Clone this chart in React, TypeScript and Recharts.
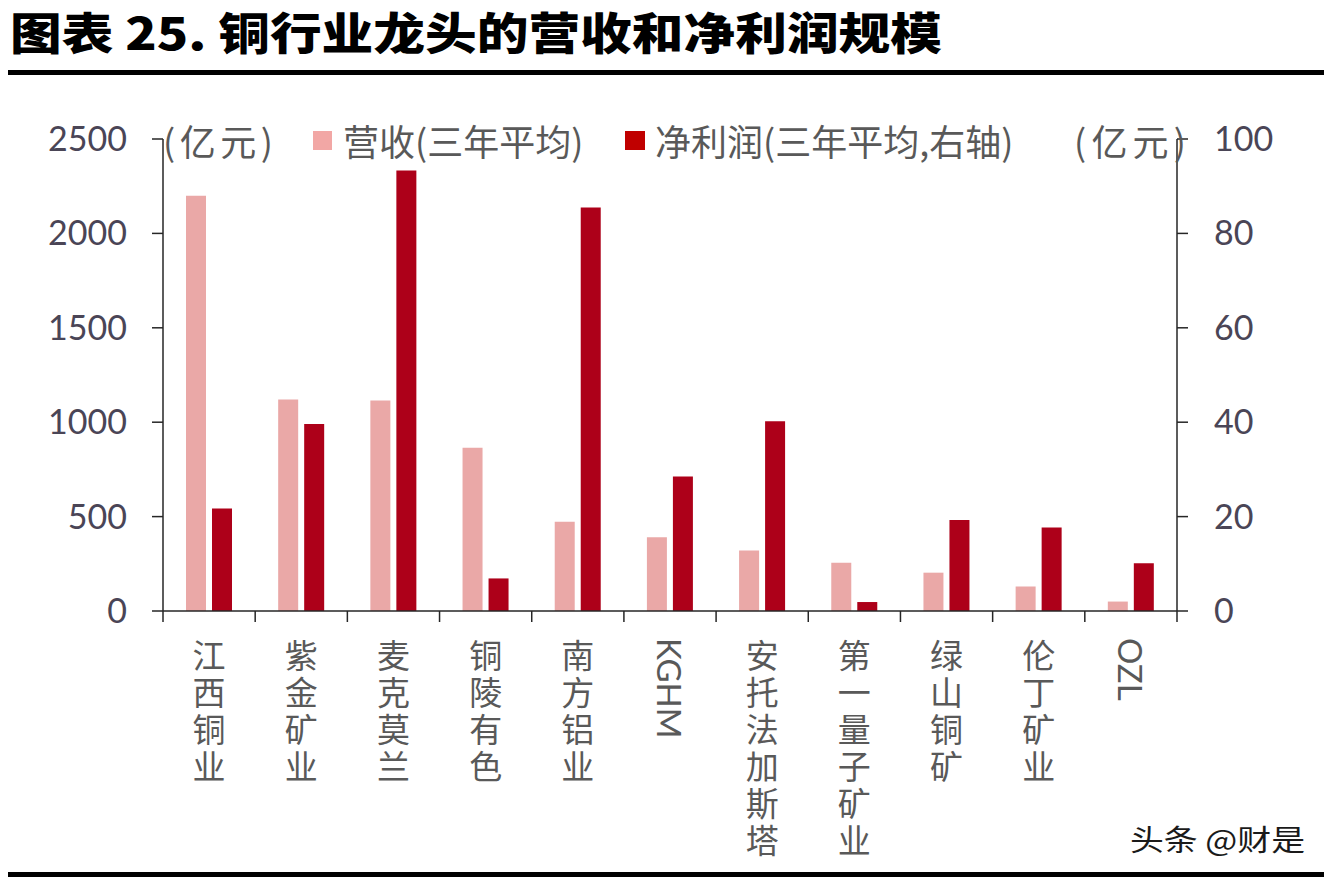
import React from "react"
import { BarChart, Bar, XAxis, YAxis } from "recharts"

// 铜行业龙头：营收（左轴，亿元）与净利润（右轴，亿元），三年平均
const companies = ["江西铜业", "紫金矿业", "麦克莫兰", "铜陵有色", "南方铝业", "KGHM", "安托法加斯塔", "第一量子矿业", "绿山铜矿", "伦丁矿业", "OZL"]
const revenue = [2200, 1120, 1115, 865, 473, 390, 321, 255, 203, 130, 50]
const netProfit = [21.7, 39.6, 93.3, 6.9, 85.5, 28.5, 40.2, 1.9, 19.3, 17.7, 10.1]
const leftTicks = [0, 500, 1000, 1500, 2000, 2500]
const rightTicks = [0, 20, 40, 60, 80, 100]

const data = companies.map((name, i) => ({ name, revenue: revenue[i], netProfit: netProfit[i] }))

const W = 1332
const H = 880
const PLOT_LEFT = 163
const PLOT_RIGHT = 1177
const PLOT_TOP = 139
const PLOT_BOTTOM = 611
const BAND = (PLOT_RIGHT - PLOT_LEFT) / companies.length

const PINK = "#EAA8A7"
const RED = "#AD0019"
const AXIS = "#262626"
const NUM = "#4a4556"
const LABEL = "#595959"
const CJK = "'Noto Sans CJK SC', sans-serif"
const LATIN = "Lato, 'Noto Sans CJK SC', sans-serif"

function CategoryTick({ x, payload, index }: any) {
  const label: string = payload.value
  const latin = /^[A-Z]+$/.test(label)
  const left = x - BAND / 2
  return (
    <g>
      <line x1={left} x2={left} y1={PLOT_BOTTOM} y2={PLOT_BOTTOM + 11} stroke={AXIS} strokeWidth={1.5} />
      {index === companies.length - 1 && (
        <line x1={x + BAND / 2} x2={x + BAND / 2} y1={PLOT_BOTTOM} y2={PLOT_BOTTOM + 11} stroke={AXIS} strokeWidth={1.5} />
      )}
      {latin ? (
        <text
          transform={`translate(${x},${PLOT_BOTTOM + 27}) rotate(90)`}
          textAnchor="start"
          dominantBaseline="central"
          fontSize={33}
          fontFamily={LATIN}
          fill={LABEL}
        >
          {label}
        </text>
      ) : (
        <text
          x={x}
          y={PLOT_BOTTOM + 28}
          style={{ writingMode: "vertical-rl" }}
          textAnchor="start"
          fontSize={33}
          letterSpacing={4}
          fontFamily={CJK}
          fill={LABEL}
        >
          {label}
        </text>
      )}
    </g>
  )
}

export default function App() {
  const tickFont = { fontSize: 34, fill: NUM, fontFamily: LATIN }
  return (
    <div style={{ position: "absolute", left: 0, top: 0, width: W, height: H, background: "#fff" }}>
      <BarChart
        width={W}
        height={H}
        data={data}
        margin={{ top: PLOT_TOP, right: 0, bottom: 0, left: 0 }}
        barSize={20}
        barGap={6}
      >
        <XAxis
          dataKey="name"
          height={H - PLOT_BOTTOM}
          interval={0}
          tickLine={false}
          axisLine={{ stroke: AXIS, strokeWidth: 1.5 }}
          tick={<CategoryTick />}
        />
        <YAxis
          yAxisId="left"
          width={PLOT_LEFT}
          domain={[0, 2500]}
          ticks={leftTicks}
          interval={0}
          tickSize={11}
          tickMargin={25}
          axisLine={{ stroke: AXIS, strokeWidth: 1.5 }}
          tickLine={{ stroke: AXIS, strokeWidth: 1.5 }}
          tick={tickFont}
        />
        <YAxis
          yAxisId="right"
          orientation="right"
          width={W - PLOT_RIGHT}
          domain={[0, 100]}
          ticks={rightTicks}
          interval={0}
          tickSize={11}
          tickMargin={26}
          axisLine={{ stroke: AXIS, strokeWidth: 1.5 }}
          tickLine={{ stroke: AXIS, strokeWidth: 1.5 }}
          tick={tickFont}
        />
        <Bar yAxisId="left" dataKey="revenue" fill={PINK} isAnimationActive={false} />
        <Bar yAxisId="right" dataKey="netProfit" fill={RED} isAnimationActive={false} />
      </BarChart>

      <svg width={W} height={H} style={{ position: "absolute", left: 0, top: 0, pointerEvents: "none" }}>
        <text
          x={10}
          y={31}
          dominantBaseline="central"
          fontSize={44}
          fontWeight={900}
          fontFamily={CJK}
          fill="#000"
          textLength={932}
          lengthAdjust="spacingAndGlyphs"
        >
          图表 25. 铜行业龙头的营收和净利润规模
        </text>
        <rect x={8} y={70} width={1316} height={5} fill="#000" />

        <text x={163} y={140} dominantBaseline="central" fontSize={36} fontFamily={CJK} fill={LABEL} textLength={110}>
          (亿元)
        </text>
        <rect x={313} y={131} width={19} height={19} fill="#F2A7A5" />
        <text x={343} y={140} dominantBaseline="central" fontSize={36} fontFamily={CJK} fill={LABEL}>
          营收(三年平均)
        </text>
        <rect x={625} y={131} width={20} height={19} fill="#C00000" />
        <text x={655} y={140} dominantBaseline="central" fontSize={36} fontFamily={CJK} fill={LABEL}>
          净利润(三年平均,右轴)
        </text>
        <text x={1074} y={140} dominantBaseline="central" fontSize={36} fontFamily={CJK} fill={LABEL} textLength={112}>
          (亿元)
        </text>

        <text
          x={1130}
          y={838}
          dominantBaseline="central"
          fontSize={29}
          fontFamily={CJK}
          fill="#1a1a1a"
          textLength={175}
          lengthAdjust="spacingAndGlyphs"
        >
          头条 @财是
        </text>
        <rect x={8} y={872} width={1316} height={5} fill="#000" />
      </svg>
    </div>
  )
}
